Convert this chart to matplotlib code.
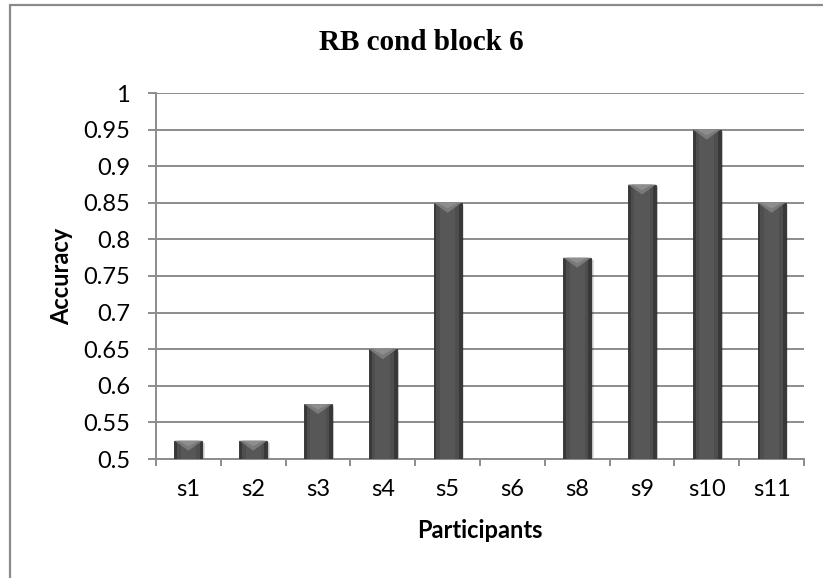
import matplotlib
matplotlib.use("Agg")
import matplotlib.pyplot as plt
import matplotlib.transforms as mtransforms
from matplotlib.patches import Rectangle, Polygon
import numpy as np

# ---- data ----
participants = ["s1", "s2", "s3", "s4", "s5", "s6", "s8", "s9", "s10", "s11"]
accuracy = [0.525, 0.525, 0.575, 0.65, 0.85, 0.5, 0.775, 0.875, 0.95, 0.85]
y_ticks = [0.5, 0.55, 0.6, 0.65, 0.7, 0.75, 0.8, 0.85, 0.9, 0.95, 1.0]
title = "RB cond block 6"
x_label = "Participants"
y_label = "Accuracy"

W, H = 823, 578
PT = 0.72  # points per pixel at 100 dpi
fig = plt.figure(figsize=(W / 100, H / 100), dpi=100)
fig.patch.set_facecolor("white")

# outer chart border (extends past right/bottom edge as in reference)
fig.patches.append(Rectangle((10 / W, -0.1), 1.2, 1 - 5 / H + 0.1,
                             transform=fig.transFigure, fill=False,
                             edgecolor="#8a8a8a", linewidth=1.6))

left, right, top, bottom = 156 / W, 804 / W, 1 - 93 / H, 1 - 459 / H
ax = fig.add_axes([left, bottom, right - left, top - bottom])

grid_c = "#8c8c8c"
tick_font = dict(family=["Lato", "DejaVu Sans"], size=17)
label_font = dict(family=["Lato", "DejaVu Sans"], size=17, weight="bold")

x = np.arange(len(participants))
vals = np.array(accuracy)
base = 0.5
bw = 0.43

# shadow
shadow_tr = mtransforms.offset_copy(ax.transData, fig=fig, x=2.5, y=-2.5, units="dots")
ax.bar(x, vals - base, bw, bottom=base, color="#000000", alpha=0.12,
       transform=shadow_tr, zorder=2, linewidth=0)
shadow_tr2 = mtransforms.offset_copy(ax.transData, fig=fig, x=1.2, y=-1.2, units="dots")
ax.bar(x, vals - base, bw * 1.05, bottom=base, color="#000000", alpha=0.12,
       transform=shadow_tr2, zorder=2, linewidth=0)

# bar body: dark edges, lighter centre
ax.bar(x, vals - base, bw, bottom=base, color="#383838", zorder=3,
       edgecolor="#2e2e2e", linewidth=0.6)
ax.bar(x, vals - base, bw * 0.8, bottom=base, color="#4e4e4e", zorder=4, linewidth=0)
ax.bar(x, vals - base, bw * 0.55, bottom=base, color="#575757", zorder=4, linewidth=0)

# top bevel (chevron)
bev = 10 / 366 * 0.5
for xi, v in zip(x, vals):
    if v - base <= 1e-9:
        continue
    h = min(bev, (v - base) * 0.7)
    ax.add_patch(Polygon([(xi - bw / 2, v), (xi + bw / 2, v), (xi, v - h)],
                         closed=True, facecolor="#7a7a7a", edgecolor="none", zorder=5))
    ax.add_patch(Polygon([(xi - bw / 2 * 0.75, v), (xi + bw / 2 * 0.75, v), (xi, v - h * 0.55)],
                         closed=True, facecolor="#8e8e8e", edgecolor="none", zorder=5))

ax.set_ylim(0.5, 1.0)
ax.set_xlim(-0.5, len(participants) - 0.5)
ax.set_yticks(y_ticks)
ax.set_yticklabels([f"{t:g}" for t in y_ticks], **tick_font)
ax.yaxis.grid(True, color=grid_c, linewidth=1.4, zorder=0)
ax.set_axisbelow(True)

ax.set_xticks(np.arange(len(participants) + 1) - 0.5)
ax.set_xticklabels([])
ax.set_xticks(x, minor=True)
ax.set_xticklabels(participants, minor=True, **tick_font)
ax.tick_params(axis="x", which="major", length=7 * PT, width=1.4, color=grid_c, direction="out")
ax.tick_params(axis="x", which="minor", length=0, pad=20 * PT)
ax.tick_params(axis="y", length=8 * PT, width=1.4, color=grid_c, direction="out", pad=18 * PT)

for s in ("top", "right"):
    ax.spines[s].set_visible(False)
for s in ("left", "bottom"):
    ax.spines[s].set_color(grid_c)
    ax.spines[s].set_linewidth(1.4)

fig.text(480 / W, 1 - 531 / H, x_label, ha="center", va="center", **label_font)
fig.text(62 / W, 1 - 276 / H, y_label, ha="center", va="center", rotation=90, **label_font)

fig.text(421.5 / W, 1 - 43 / H, title, ha="center", va="center",
         family=["Liberation Serif", "DejaVu Serif"], weight="bold", size=21)

fig.savefig("out.png", dpi=100, facecolor="white")
